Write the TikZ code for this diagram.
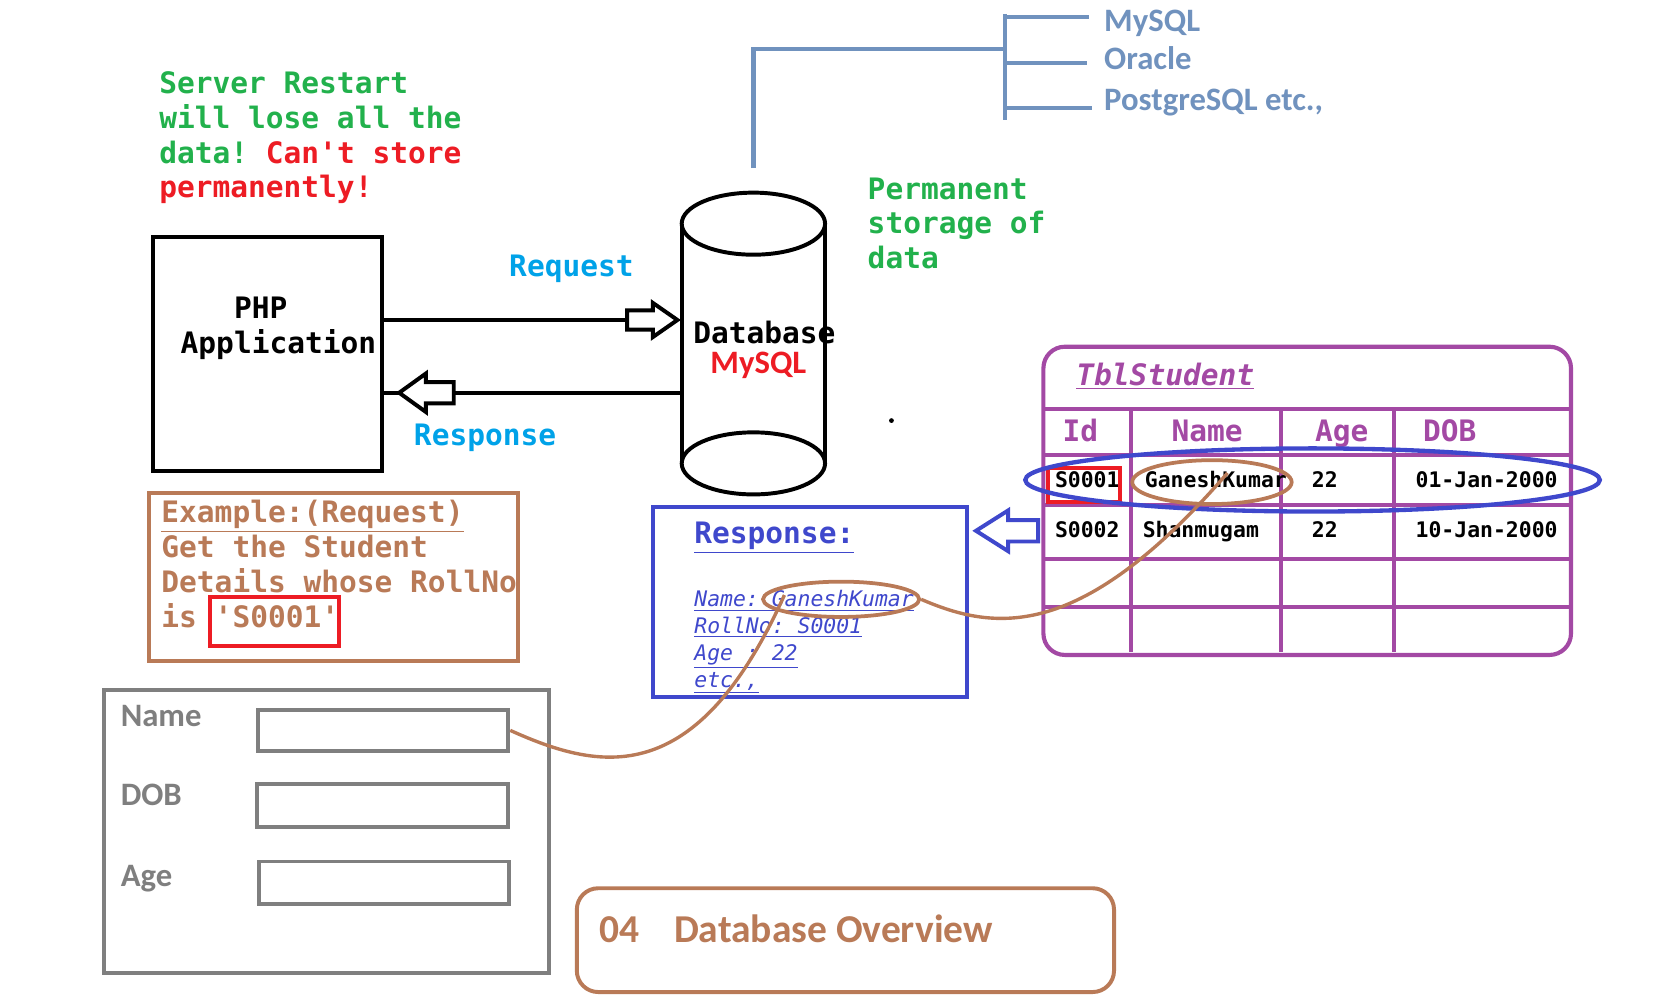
\documentclass[tikz,border=0pt]{standalone}
\usepackage{fontspec}
\usepackage{tikz}
\usetikzlibrary{shapes.geometric}
\setmonofont{DejaVu Sans Mono}[BoldFont={* Bold}, ItalicFont={* Oblique}, BoldItalicFont={* Bold Oblique}]
\setsansfont{Carlito}
\definecolor{pgreen}{HTML}{22B14C}
\definecolor{pred}{HTML}{ED1C24}
\definecolor{pcyan}{HTML}{00A2E8}
\definecolor{psteel}{HTML}{7092BE}
\definecolor{ppurple}{HTML}{A349A4}
\definecolor{pindigo}{HTML}{3F48CC}
\definecolor{pbrown}{HTML}{B97A57}
\definecolor{pgray}{HTML}{7F7F7F}
\newcommand{\monobig}{\ttfamily\bfseries\fontsize{15.7pt}{18.5pt}\selectfont}
\newcommand{\monosmall}{\ttfamily\bfseries\fontsize{11.4pt}{14.2pt}\selectfont}
\newcommand{\monoslant}{\ttfamily\itshape\fontsize{11.4pt}{14.2pt}\selectfont}
\newcommand{\sanslabel}{\sffamily\bfseries\fontsize{17.4pt}{21pt}\selectfont}
\newcommand{\sanstitle}{\sffamily\bfseries\fontsize{21pt}{25pt}\selectfont}

\begin{document}
\begin{tikzpicture}[x = 0.02cm, y = -0.02cm, line width = 2.1pt,
                        txt/.style = {inner sep = 0pt, anchor = base west, align = left},
                        box/.style = {draw, rectangle, inner sep = 0pt},
                        hollow/.style = {draw, fill = white, line join = miter},
                        list/.style = {draw = psteel, line width = 2.3pt},
                        tbl/.style = {draw = ppurple, line width = 2.2pt},
                        wire/.style = {draw = pbrown, line width = 1.8pt},
                        field/.style = {box, draw = pgray, minimum height = 0.78cm, minimum width = 4.68cm}]
    \useasboundingbox (0,0) rectangle (1568,940);

    \node [txt, font = \monobig, text = pgreen] (note) at (147,185)
        {Server Restart\\will lose all the\\data! \textcolor{pred}{Can't store}\\\textcolor{pred}{permanently!}};

    \node [box, minimum width = 4.28cm, minimum height = 4.38cm] (app) at (250,330.5) {};
    \node [txt, font = \monobig] (apptxt) at (167,330) {\hphantom{PHP}PHP\\Application};

    \node [minimum width = 2.68cm, minimum height = 4.48cm] (db) at (704,321) {};
    \draw (637,209) -- (637,433);
    \draw (771,209) -- (771,433);
    \draw (704,209) ellipse [x radius = 1.34cm, y radius = 0.58cm];
    \draw (704,433) ellipse [x radius = 1.34cm, y radius = 0.58cm];
    \node [txt, font = \monobig] (dbtxt) at (646,321) {Database};
    \node [txt, font = \sanslabel, text = pred] (dbkind) at (662,349) {MySQL};

    \coordinate (reqtail) at (586,299);
    \coordinate (restip) at (373,367);
    \draw (reqtail -| app.east) -- (reqtail);
    \draw [hollow, shift = {(reqtail)}] (0,-9) -- (24,-9) -- (24,-16) -- (47,0) -- (24,16) -- (24,9) -- (0,9) -- cycle;
    \draw (restip -| db.west) -- ([xshift = 1.02cm]restip);
    \draw (restip) -- (restip -| app.east);
    \draw [hollow, shift = {(restip)}] (0,0) -- (25,-18) -- (25,-10) -- (51,-10) -- (51,10) -- (25,10) -- (25,18) -- cycle;
    \node [txt, font = \monobig, text = pcyan] (req) at (474,258) {Request};
    \node [txt, font = \monobig, text = pcyan] (res) at (385,416) {Response};

    \coordinate (dbtop) at (704,157);
    \coordinate (hub) at (939,46);
    \node [txt, font = \sanslabel, text = psteel] (mysql) at (1030,29) {MySQL};
    \node [txt, font = \sanslabel, text = psteel] (oracle) at (1030,65) {Oracle};
    \node [txt, font = \sanslabel, text = psteel] (postgres) at (1030,103) {PostgreSQL etc.,};
    \draw [list] (dbtop) -- (dbtop |- hub) -- (hub);
    \draw [list] (939,13) -- (939,112);
    \draw [list] (hub |- 0,16) -- (1018,16);
    \draw [list] (hub |- 0,59) -- (1016,59);
    \draw [list] (hub |- 0,101) -- (1020,101);

    \node [txt, font = \monobig, text = pgreen] (perm) at (809,251) {Permanent\\storage of\\data};
    \fill (833,393) circle [radius = 0.045cm];

    \draw [tbl, rounded corners = 0.4cm] (975,324) rectangle (1468,612);
    \foreach \y in {382,425,472,522,567}
        \draw [tbl] (975,\y) -- (1468,\y);
    \foreach \x in {1057,1197,1303}
        \draw [tbl] (\x,382) -- (\x,609);
    \node [txt, font = \monobig\itshape, text = ppurple] (tblname) at (1004,360) {\underline{TblStudent}};
    \foreach \x/\t in {991/Id,1093/Name,1227/Age,1328/DOB}
        \node [txt, font = \monobig, text = ppurple] (h\t) at (\x,413) {\t};
    \node [txt, font = \monosmall] (id1) at (984,456) {S0001};
    \node [txt, font = \monosmall] (name1) at (1068,456) {GaneshKumar};
    \node [txt, font = \monosmall] (age1) at (1224,456) {22};
    \node [txt, font = \monosmall] (dob1) at (1321,456) {01-Jan-2000};
    \node [txt, font = \monosmall] (id2) at (984,502) {S0002};
    \node [txt, font = \monosmall] (name2) at (1066,502) {Shanmugam};
    \node [txt, font = \monosmall] (age2) at (1224,502) {22};
    \node [txt, font = \monosmall] (dob2) at (1321,502) {10-Jan-2000};
    \draw [pred] (979,437) rectangle (1047,469);
    \node [ellipse, draw = pindigo, line width = 2.3pt, minimum width = 10.74cm, minimum height = 1.18cm] (rowring) at (1226.5,448.5) {};
    \node [ellipse, draw = pbrown, line width = 2pt, minimum width = 2.98cm, minimum height = 0.82cm] (namering) at (1132.5,450.5) {};

    \coordinate (backtip) at (912,496);
    \draw [hollow, draw = pindigo, shift = {(backtip)}] (0,0) -- (30,-19) -- (30,-10) -- (58,-10) -- (58,10) -- (30,10) -- (30,19) -- cycle;

    \draw [pindigo] (610,474) rectangle (904,651);
    \node [txt, font = \monobig, text = pindigo] (restitle) at (647,508) {\underline{Response:}};
    \node [txt, font = \monoslant, text = pindigo] (resdata) at (647,642)
        {\underline{Name: GaneshKumar}\\\underline{RollNo: S0001}\\\underline{Age : 22}\\\underline{etc.,}};
    \node [ellipse, draw = pbrown, line width = 2pt, minimum width = 2.92cm, minimum height = 0.66cm] (resring) at (786,560) {};

    \node [txt, font = \monobig, text = pbrown] (example) at (149,586)
        {\underline{Example:(Request)}\\Get the Student\\Details whose RollNo\\is 'S0001'};
    \draw [pbrown] (139,461) rectangle (484,618);
    \draw [pred] (196,558) rectangle (317,604);

    \draw [pgray] (97,645) rectangle (513,909);
    \node [txt, font = \sanslabel, text = pgray] (lname) at (111,679) {Name};
    \node [txt, font = \sanslabel, text = pgray] (ldob) at (111,753) {DOB};
    \node [txt, font = \sanslabel, text = pgray] (lage) at (111,828) {Age};
    \node [field] (namefield) at (358,682.5) {};
    \node [field, minimum height = 0.8cm] (dobfield) at (357.5,753) {};
    \node [field, minimum height = 0.8cm] (agefield) at (359,825) {};

    \coordinate (tblhit) at (1147,442);
    \coordinate (reshit) at (733,556);
    \draw [wire] (resring.east) .. controls (930,590) and (1010,600) .. (tblhit);
    \draw [wire] (namefield.east) .. controls (560,720) and (650,740) .. (reshit);

    \draw [pbrown, rounded corners = 0.4cm] (539,830) rectangle (1041,927);
    \node [txt, font = \sanstitle, text = pbrown] (num) at (558,881) {04};
    \node [txt, font = \sanstitle, text = pbrown] (title) at (628,881) {Database Overview};
\end{tikzpicture}
\end{document}
